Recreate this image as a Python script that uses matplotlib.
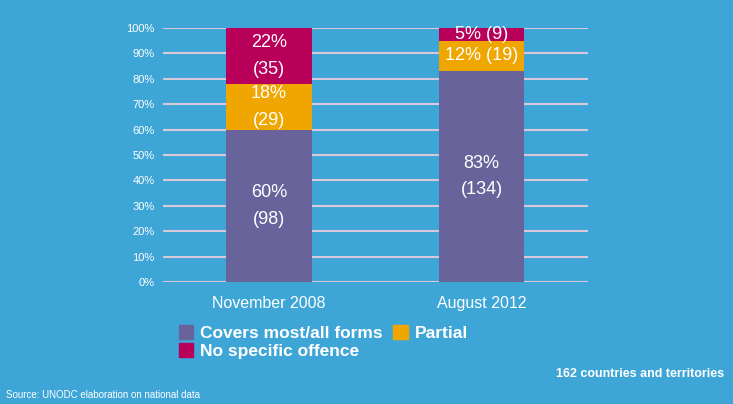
import matplotlib.pyplot as plt
from matplotlib.patches import Patch

# data
periods = ["November 2008", "August 2012"]
series_names = ["Covers most/all forms", "Partial", "No specific offence"]
pct_covers = [60, 83]
pct_partial = [18, 12]
pct_none = [22, 5]
cnt_covers = [98, 134]
cnt_partial = [29, 19]
cnt_none = [35, 9]
y_ticks = list(range(0, 101, 10))

bg = "#3ea6d7"
colors = ["#68649b", "#f0a600", "#b8005a"]

plt.rcParams["font.family"] = ["Liberation Sans", "DejaVu Sans"]

fig = plt.figure(figsize=(7.33, 4.04), dpi=100)
fig.patch.set_facecolor(bg)
ax = fig.add_axes([0.222, 0.302, 0.58, 0.629])
ax.set_facecolor(bg)

x = range(len(periods))
w = 0.40
bottoms = [0] * len(periods)
stack = [(pct_covers, cnt_covers), (pct_partial, cnt_partial), (pct_none, cnt_none)]
for si, (pcts, cnts) in enumerate(stack):
    ax.bar(x, pcts, w, bottom=bottoms, color=colors[si], zorder=2)
    for i in x:
        mid = bottoms[i] + pcts[i] / 2
        if i == 0 or si == 0:
            txt = f"{pcts[i]}%\n({cnts[i]})"
            ls = 1.75
        else:
            txt = f"{pcts[i]}% ({cnts[i]})"
            ls = 1.0
        ax.text(i, mid, txt, ha="center", va="center", color="white",
                fontsize=13, linespacing=ls, zorder=3)
    bottoms = [b + p for b, p in zip(bottoms, pcts)]

ax.set_xlim(-0.5, 1.5)
ax.set_ylim(0, 100)
ax.set_yticks(y_ticks)
ax.set_yticklabels([f"{t}%" for t in y_ticks], color="white", fontsize=8)
ax.set_xticks(list(x))
ax.set_xticklabels(periods, color="white", fontsize=11.5)
ax.tick_params(axis="y", length=0, pad=6)
ax.tick_params(axis="x", length=0, pad=10)
ax.grid(axis="y", color="#d9c7da", linewidth=1.5, zorder=1)
for s in ax.spines.values():
    s.set_visible(False)

handles = [Patch(color=colors[0], label=series_names[0]),
           Patch(color=colors[2], label=series_names[2]),
           Patch(color=colors[1], label=series_names[1])]
fig.legend(handles=handles, ncol=2, loc="upper left", bbox_to_anchor=(0.232, 0.217),
           frameon=False, handlelength=0.85, handleheight=0.85, handletextpad=0.4,
           columnspacing=0.6, labelspacing=0.1, borderpad=0,
           prop={"weight": "bold", "size": 12.5}, labelcolor="white")

fig.text(0.988, 0.075, "162 countries and territories", ha="right", va="center",
         color="white", fontsize=9, fontweight="bold", fontstretch="condensed")
fig.text(0.008, 0.022, "Source: UNODC elaboration on national data", ha="left",
         va="center", color="white", fontsize=7)

fig.savefig("out.png", dpi=100, facecolor=fig.get_facecolor())
